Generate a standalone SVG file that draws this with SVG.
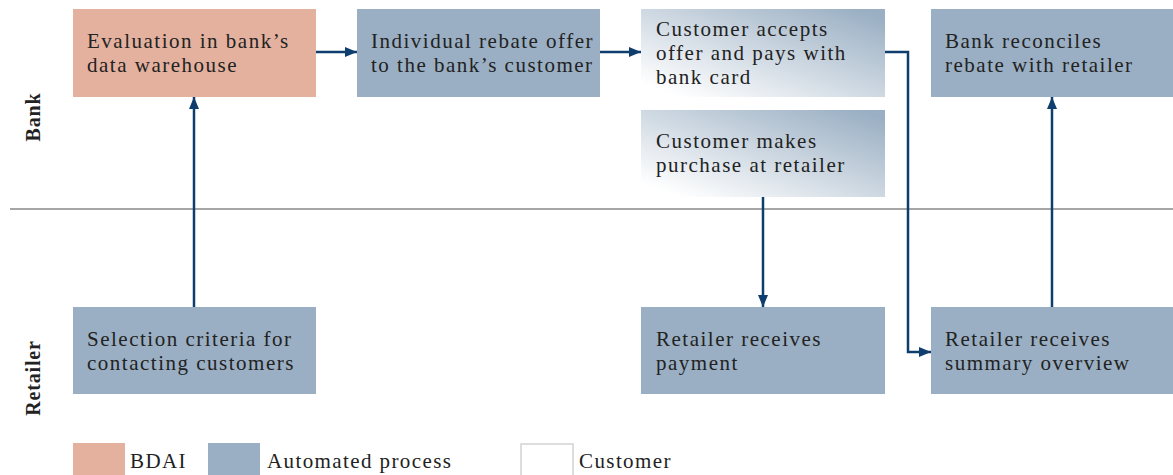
<svg xmlns="http://www.w3.org/2000/svg" width="1173" height="475" viewBox="0 0 1173 475">
<style>
.t{font-family:"Liberation Serif","Times New Roman",serif;font-size:21px;letter-spacing:1.5px;fill:#222}
.lane{font-family:"Liberation Serif","Times New Roman",serif;font-size:20px;font-weight:bold;fill:#222;letter-spacing:0.8px}
.bdai{fill:#e4b19f}
.auto{fill:#9aafc3}
.cust{fill:url(#g)}
.c{fill:none;stroke:#0e3d6e;stroke-width:2.5}
.lt{font-family:"Liberation Serif","Times New Roman",serif;font-size:21px;fill:#222;letter-spacing:1.4px}
</style>
<defs>
<linearGradient id="g" x1="0" y1="1" x2="1" y2="0">
<stop offset="0.08" stop-color="#ffffff"/>
<stop offset="0.95" stop-color="#9aafc3"/>
</linearGradient>
<marker id="a" markerUnits="userSpaceOnUse" markerWidth="14" markerHeight="14" viewBox="0 0 14 14" refX="13" refY="7" orient="auto">
<path d="M1,2 L13,7 L1,12 Z" fill="#0e3d6e"/>
</marker>
</defs>
<rect width="1173" height="475" fill="#fff"/>
<line x1="10" y1="209" x2="1173" y2="209" stroke="#888" stroke-width="1.5"/>
<text class="lane" transform="translate(40,117) rotate(-90)" text-anchor="middle">Bank</text>
<text class="lane" transform="translate(40,378) rotate(-90)" text-anchor="middle">Retailer</text>

<g id="n-eval"><rect class="bdai" x="73" y="9" width="243" height="88"/><text class="t" x="87" y="48">Evaluation in bank’s</text><text class="t" x="87" y="72">data warehouse</text></g>
<g id="n-offer"><rect class="auto" x="357" y="9" width="243" height="88"/><text class="t" x="371" y="48">Individual rebate offer</text><text class="t" x="371" y="72">to the bank’s customer</text></g>
<g id="n-accept"><rect class="cust" x="641" y="9" width="244" height="88"/><text class="t" x="656" y="36">Customer accepts</text><text class="t" x="656" y="60">offer and pays with</text><text class="t" x="656" y="84">bank card</text></g>
<g id="n-purchase"><rect class="cust" x="641" y="110" width="244" height="87"/><text class="t" x="656" y="148">Customer makes</text><text class="t" x="656" y="172">purchase at retailer</text></g>
<g id="n-reconcile"><rect class="auto" x="931" y="9" width="242" height="88"/><text class="t" x="945" y="48">Bank reconciles</text><text class="t" x="945" y="72">rebate with retailer</text></g>
<g id="n-select"><rect class="auto" x="73" y="307" width="243" height="87"/><text class="t" x="87" y="346">Selection criteria for</text><text class="t" x="87" y="370">contacting customers</text></g>
<g id="n-payment"><rect class="auto" x="641" y="307" width="244" height="87"/><text class="t" x="656" y="346">Retailer receives</text><text class="t" x="656" y="370">payment</text></g>
<g id="n-summary"><rect class="auto" x="931" y="307" width="242" height="87"/><text class="t" x="945" y="346">Retailer receives</text><text class="t" x="945" y="370">summary overview</text></g>

<g id="connectors">
<path class="c" d="M316,52 H357" marker-end="url(#a)"/>
<path class="c" d="M600,52 H641" marker-end="url(#a)"/>
<path class="c" d="M194,307 V97" marker-end="url(#a)"/>
<path class="c" d="M763,197 V307" marker-end="url(#a)"/>
<path class="c" d="M885,52 H908 V352 H931" marker-end="url(#a)"/>
<path class="c" d="M1052,307 V97" marker-end="url(#a)"/>
</g>

<g id="legend">
<rect class="bdai" x="73" y="443" width="52" height="32"/>
<text class="lt" x="130" y="468">BDAI</text>
<rect class="auto" x="208" y="443" width="52" height="32"/>
<text class="lt" x="267" y="468">Automated process</text>
<rect x="521" y="444" width="52" height="32" fill="#fff" stroke="#ddd" stroke-width="2"/>
<text class="lt" x="579" y="468">Customer</text>
</g>
</svg>
